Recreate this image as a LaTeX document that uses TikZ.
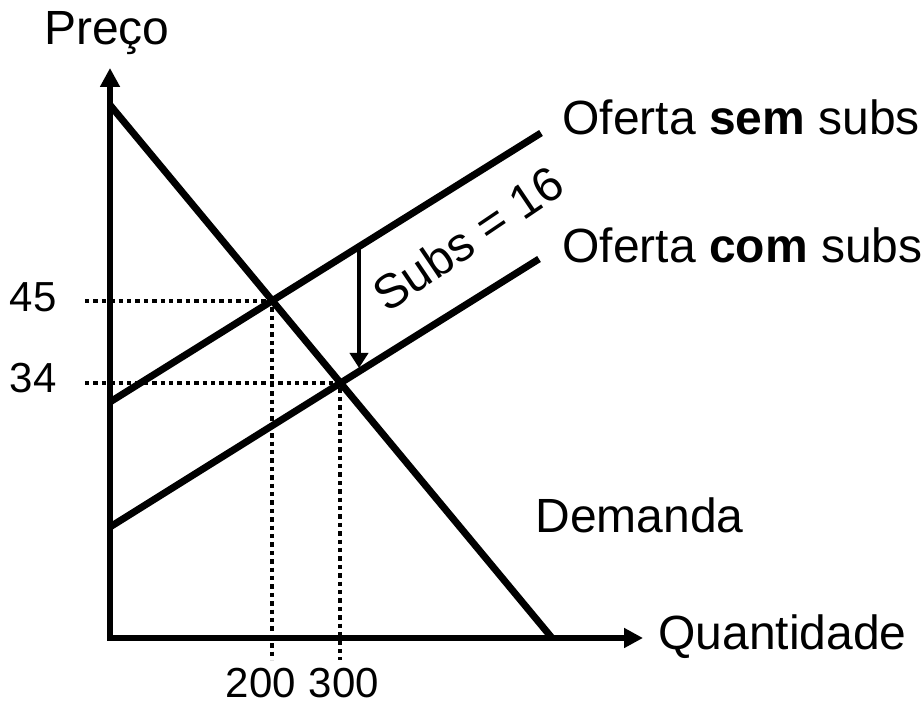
\documentclass[tikz,border=0pt]{standalone}
\usepackage{fontspec}
\setmainfont{Liberation Sans}
\usetikzlibrary{arrows.meta}
\begin{document}
\begin{tikzpicture}[x=0.5pt, y=0.5pt,
        curve/.style = {line width=3.5pt},
        axis/.style = {line width=2.6pt, line join=miter, {Triangle[width=9.5pt,length=9.5pt]}-{Triangle[width=9.5pt,length=9.5pt]}},
        guide/.style = {line width=1.75pt, dash pattern=on 2.2pt off 2pt},
        lbl/.style = {inner sep=0pt, font=\fontsize{24}{28}\selectfont},
        num/.style = {inner sep=0pt, font=\fontsize{21}{25}\selectfont}]
    \useasboundingbox (0,0) rectangle (922,702);
    \coordinate (ytop) at (110,634);
    \coordinate (xend) at (643,64);
    \coordinate (d1) at (110,597);
    \coordinate (d2) at (552,64);
    \coordinate (s1) at (110,300);
    \coordinate (s2) at (541,569);
    \coordinate (c1) at (110,175);
    \coordinate (c2) at (539,443);
    \coordinate (h45) at (85,401);
    \coordinate (h34) at (85,319);
    \coordinate (v200) at (272,42);
    \coordinate (v300) at (340,42);
    \coordinate (a1) at (359,453);
    \coordinate (a2) at (359,334);
    \draw[guide] (h45) -| (v200);
    \draw[guide] (h34) -| (v300);
    \draw[axis] (ytop) |- (xend);
    \draw[curve] (d1) -- (d2);
    \draw[curve] (s1) -- (s2);
    \draw[curve] (c1) -- (c2);
    \draw[line width=2.2pt, -{Triangle[width=9pt,length=7.5pt]}] (a1) -- (a2);
    \node[lbl, anchor=base] (preco) at (107,657) {Preço};
    \node[lbl, anchor=base west] (sem) at (562,567) {Oferta \textbf{sem} subs};
    \node[lbl, anchor=base west] (com) at (562,439) {Oferta \textbf{com} subs};
    \node[lbl, anchor=base west] (dem) at (535,169) {Demanda};
    \node[lbl, anchor=base west] (qty) at (658,52) {Quantidade};
    \node[lbl, rotate=34] (subs) at (468,464) {Subs = 16};
    \node[num, anchor=base east] (p45) at (57,390) {45};
    \node[num, anchor=base east] (p34) at (57,309) {34};
    \node[num, anchor=base] (q200) at (261,4) {200};
    \node[num, anchor=base] (q300) at (344,4) {300};
\end{tikzpicture}
\end{document}
